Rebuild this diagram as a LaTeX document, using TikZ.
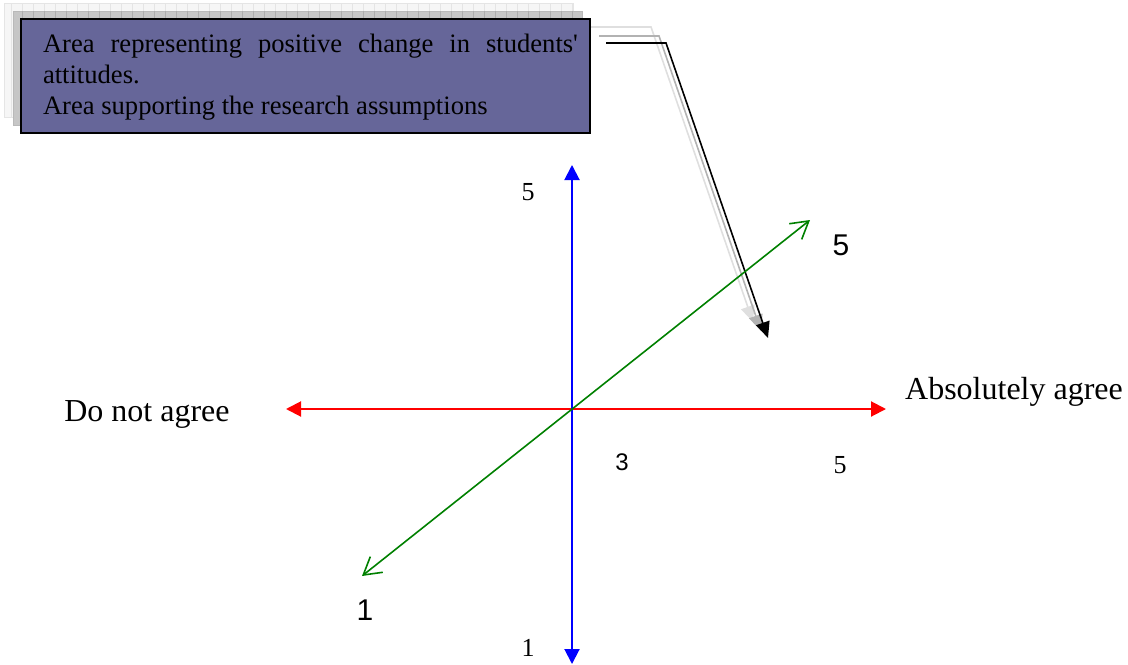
\documentclass[tikz,border=0pt]{standalone}
\usepackage{fontspec}
\setmainfont{Liberation Serif}
\newfontfamily\arialfont{Liberation Sans}
\usetikzlibrary{arrows.meta}
\usepackage{xcolor}

\definecolor{boxblue}{RGB}{102,102,153}
\definecolor{axgreen}{RGB}{0,128,0}
\tolerance=9999
\hyphenpenalty=10000

\begin{document}
\begin{tikzpicture}[
  x=0.5pt, y=-0.5pt,
  boxframe/.style={draw=black, line width=1pt, fill=boxblue},
  calltext/.style={text width=267.5pt, align=justify, inner sep=0pt,
                   font=\fontsize{13.3}{15.5}\selectfont},
  shade1/.style={fill=gray!45, draw=gray!55, line width=0.3pt},
  shade2/.style={fill=gray!7, draw=gray!20, line width=0.3pt},
  redaxis/.style={red, line width=1pt, {Triangle[length=7.5pt,width=7.5pt]}-{Triangle[length=7.5pt,width=7.5pt]}},
  blueaxis/.style={blue, line width=1pt, {Triangle[length=7.5pt,width=7.5pt]}-{Triangle[length=7.5pt,width=7.5pt]}},
  greenaxis/.style={axgreen, line width=0.8pt, {Straight Barb[length=8.5pt,width=10pt]}-{Straight Barb[length=8.5pt,width=10pt]}},
  pointer/.style={line width=0.8pt, -{Triangle[length=8pt,width=7pt]}},
  word/.style={font=\fontsize{16}{18}\selectfont},
  tnum/.style={font=\fontsize{13}{15}\selectfont},
  snum/.style={font=\arialfont\fontsize{12}{14}\selectfont},
  bignum/.style={font=\arialfont\fontsize{15}{17}\selectfont},
]
\useasboundingbox (0,0) rectangle (1128,664);

% ---- Callout box with its stacked shadows ----------------------------------
\coordinate (boxNW) at (21,19);
\coordinate (boxSE) at (590,133);
\draw[shade2] ([shift={(-17,-16)}]boxNW) rectangle ([shift={(-17,-16)}]boxSE);
\draw[gray!20, line width=0.3pt, step=11] ([shift={(-17,-16)}]boxNW) grid ([shift={(-17,-16)}]boxSE);
\draw[shade1] ([shift={(-8,-8)}]boxNW) rectangle ([shift={(-8,-8)}]boxSE);
\draw[gray!65, line width=0.3pt, step=11] ([shift={(-8,-8)}]boxNW) grid ([shift={(-8,-8)}]boxSE);
\draw[boxframe] (boxNW) rectangle (boxSE);
\node[calltext] (note) at (310.5,77)
  {Area representing positive change in students\textquotesingle{} attitudes.\par
   Area supporting the research assumptions};

% ---- Callout pointer (two faint copies behind) ------------------------------
\coordinate (cStart) at (606,43);
\coordinate (cBend)  at (666,43);
\coordinate (cTip)   at (768,338);
\draw[pointer, gray!25] ([shift={(-15,-16)}]cStart) -- ([shift={(-15,-16)}]cBend) -- ([shift={(-15,-16)}]cTip);
\draw[pointer, gray!60] ([shift={(-7,-7)}]cStart) -- ([shift={(-7,-7)}]cBend) -- ([shift={(-7,-7)}]cTip);
\draw[pointer] (cStart) -- (cBend) -- (cTip);

% ---- Axes -------------------------------------------------------------------
\coordinate (orig)   at (572,409);
\coordinate (xLeft)  at (286,409);
\coordinate (xRight) at (886,409);
\coordinate (yTop)   at (572,165);
\coordinate (yBot)   at (572,664);
\coordinate (zNear)  at (362,576);
\coordinate (zFar)   at (810,220);

\draw[redaxis]   (xLeft) -- (xRight);
\draw[blueaxis]  (yBot) -- (yTop);
\draw[greenaxis] (zNear) -- (zFar);

% ---- Labels -----------------------------------------------------------------
\node[word] (lblNo)  at (147,414) {Do not agree};
\node[word] (lblYes) at (1014,392) {Absolutely agree};
\node[tnum] (yHigh)  at (528,192) {5};
\node[tnum] (yLow)   at (528,648) {1};
\node[tnum] (xHigh)  at (840,465) {5};
\node[snum] (xMid)   at (622,462) {3};
\node[bignum] (zHigh) at (841,245) {5};
\node[bignum] (zLow)  at (365,610) {1};

\end{tikzpicture}
\end{document}
